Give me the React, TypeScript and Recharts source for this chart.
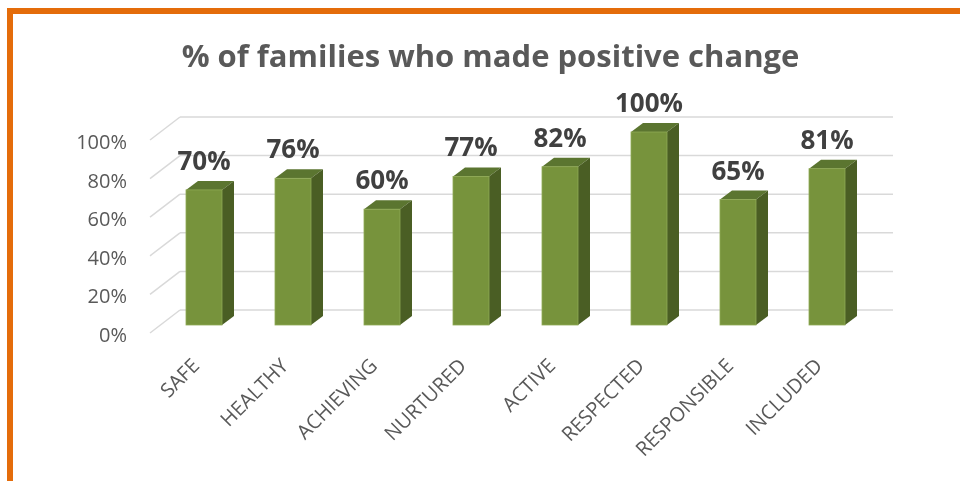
import React from "react";
import {
  BarChart,
  Bar,
  XAxis,
  YAxis,
  CartesianGrid,
  LabelList,
} from "recharts";

// Valores de la gráfica
const categories = [
  "SAFE",
  "HEALTHY",
  "ACHIEVING",
  "NURTURED",
  "ACTIVE",
  "RESPECTED",
  "RESPONSIBLE",
  "INCLUDED",
];
const values = [70, 76, 60, 77, 82, 100, 65, 81];
const yTicks = [0, 20, 40, 60, 80, 100];

const data = categories.map((name, i) => ({ name, value: values[i] }));

const FONT = "'Open Sans', 'Noto Sans', sans-serif";
const DEPTH_X = 12;
const DEPTH_Y = 9;
const WALL_X = 21;
const WALL_Y = 15;

const gridLine = (props: any) => {
  const { x1, x2, y1, index } = props;
  return (
    <g key={`grid-${index}`}>
      <line
        x1={x1 - 9}
        y1={y1 + 8}
        x2={x1 + WALL_X}
        y2={y1 - WALL_Y}
        stroke="#D9D9D9"
        strokeWidth={1.5}
      />
      <line
        x1={x1 + WALL_X}
        y1={y1 - WALL_Y}
        x2={x2 + WALL_X + 1}
        y2={y1 - WALL_Y}
        stroke="#D9D9D9"
        strokeWidth={1.5}
      />
    </g>
  );
};

const Bar3D = (props: any) => {
  const { x, y, width, height } = props;
  return (
    <g>
      <polygon
        points={`${x},${y} ${x + DEPTH_X},${y - DEPTH_Y} ${x + width + DEPTH_X},${y - DEPTH_Y} ${x + width},${y}`}
        fill="#5B7530"
      />
      <polygon
        points={`${x + width},${y} ${x + width + DEPTH_X},${y - DEPTH_Y} ${x + width + DEPTH_X},${y + height - DEPTH_Y} ${x + width},${y + height}`}
        fill="#4A5E24"
      />
      <rect
        x={x}
        y={y}
        width={width}
        height={height}
        fill="#77933C"
        stroke="#8FAA55"
        strokeWidth={0.8}
      />
    </g>
  );
};

const renderValue = (props: any) => {
  const { x, y, width, value } = props;
  return (
    <text
      x={x + width / 2}
      y={y - 20}
      textAnchor="middle"
      fontFamily={FONT}
      fontWeight="bold"
      fontSize={26}
      fill="#404040"
    >
      {`${value}%`}
    </text>
  );
};

const YTick = (props: any) => {
  const { x, y, payload } = props;
  return (
    <text
      x={x - 32}
      y={y + 17}
      textAnchor="end"
      fontFamily={FONT}
      fontSize={20}
      fill="#595959"
    >
      {`${payload.value}%`}
    </text>
  );
};

const XTick = (props: any) => {
  const { x, y, payload } = props;
  const ax = x - 3;
  const ay = y + 42;
  return (
    <text
      x={ax}
      y={ay}
      textAnchor="end"
      transform={`rotate(-45, ${ax}, ${ay})`}
      fontFamily={FONT}
      fontSize={20}
      fill="#595959"
    >
      {payload.value}
    </text>
  );
};

const App: React.FC = (): JSX.Element => {
  return (
    <div>
      {/* Marco naranja */}
      <div
        style={{
          position: "fixed",
          left: 7,
          top: 8,
          width: 953,
          height: 473,
          boxSizing: "border-box",
          borderTop: "6px solid #E46C0A",
          borderLeft: "6px solid #E46C0A",
          background: "#FFFFFF",
        }}
      />
      {/* Titulo */}
      <div
        style={{
          position: "fixed",
          left: 0,
          top: 33,
          width: 981,
          textAlign: "center",
          fontFamily: FONT,
          fontWeight: "bold",
          fontSize: 31,
          color: "#595959",
          lineHeight: "44px",
        }}
      >
        % of families who made positive change
      </div>
      {/* Gráfica */}
      <div style={{ position: "fixed", left: 0, top: 0 }}>
        <BarChart
          width={960}
          height={481}
          data={data}
          margin={{ top: 132, right: 89, left: 0, bottom: 126 }}
        >
          <CartesianGrid vertical={false} horizontal={gridLine} />
          <XAxis
            dataKey="name"
            height={30}
            axisLine={false}
            tickLine={false}
            tickSize={0}
            tickMargin={0}
            interval={0}
            tick={<XTick />}
          />
          <YAxis
            width={159}
            domain={[0, 100]}
            ticks={yTicks}
            axisLine={false}
            tickLine={false}
            tickSize={0}
            tickMargin={0}
            tick={<YTick />}
          />
          <Bar
            dataKey="value"
            barSize={36}
            isAnimationActive={false}
            shape={Bar3D}
          >
            <LabelList dataKey="value" content={renderValue} />
          </Bar>
        </BarChart>
      </div>
    </div>
  );
};

export default App;
